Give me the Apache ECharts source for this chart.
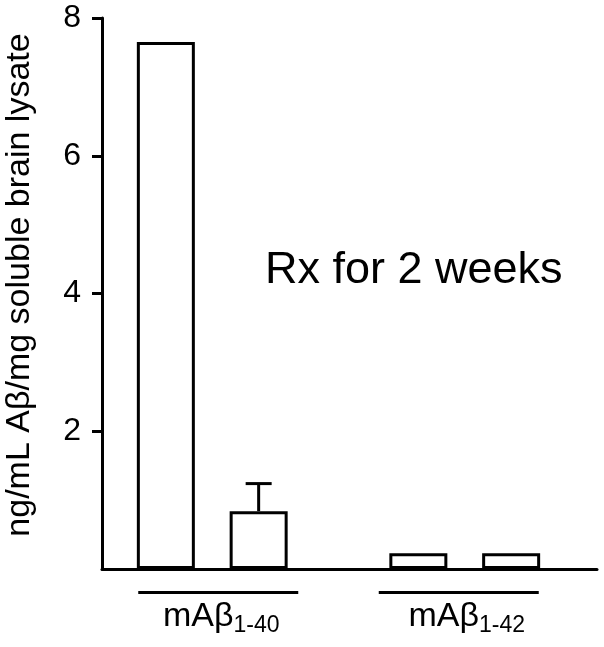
<!DOCTYPE html>
<html>
<head>
<meta charset="utf-8">
<script src="https://cdn.jsdelivr.net/npm/echarts@6/dist/echarts.min.js"></script>
<style>
  html, body { margin: 0; padding: 0; background: #fff; }
  #main { width: 604px; height: 647px; }
</style>
</head>
<body>
<div id="main"></div>
<script>
// data
var groupMain = 'mAβ';
var groupSub = ['1-40', '1-42'];
var barsA = [7.65, 0.23];
var barsB = [0.84, 0.23];
var errUpperB = [1.24, null];   // only the 1-40 bar has an error bar
var yTicks = [2, 4, 6, 8];

var FONT = '"Liberation Sans", Arial, sans-serif';
var barWidth = 58;
var barGap = 0.6;

var chart = echarts.init(document.getElementById('main'));

// error bar points [category index, bar value, upper]
var errData = [];
errUpperB.forEach(function (v, i) {
    if (v != null) errData.push([i, barsB[i], v]);
});

var option = {
    backgroundColor: '#fff',
    animation: false,
    grid: [
        // bars
        { left: 86, right: 13, top: 18, bottom: 78, outerBoundsMode: 'none' },
        // axis frame
        { left: 102, right: 7, top: 18, bottom: 78, outerBoundsMode: 'none' }
    ],
    xAxis: [
        {
            type: 'category',
            gridIndex: 0,
            data: groupSub,
            axisLine: { show: false },
            axisTick: { show: false },
            axisLabel: {
                margin: 22,
                formatter: function (v, i) {
                    // small spacers nudge the underline / label off the category centre
                    if (i === 0) {
                        return '{sp12|}{ln|}\n{sp18|}{m|' + groupMain + '}{s|' + v + '}';
                    }
                    return '{ln|}{sp12|}\n{sp4|}{m|' + groupMain + '}{s|' + v + '}';
                },
                rich: {
                    ln: { width: 160, height: 3, lineHeight: 3, backgroundColor: '#000' },
                    sp12: { width: 12, height: 3, lineHeight: 3 },
                    sp18: { width: 18 },
                    sp4: { width: 4 },
                    m: { fontFamily: FONT, fontSize: 34, color: '#000', lineHeight: 46 },
                    s: { fontFamily: FONT, fontSize: 23, color: '#000', lineHeight: 46, padding: [17, 0, 0, 0] }
                }
            }
        },
        {
            type: 'value',
            gridIndex: 1,
            min: 0,
            max: 1,
            axisLine: { show: true, lineStyle: { color: '#000', width: 3 } },
            axisTick: { show: false },
            axisLabel: { show: false },
            splitLine: { show: false }
        }
    ],
    yAxis: [
        { type: 'value', gridIndex: 0, min: 0, max: 8, show: false },
        {
            type: 'value',
            gridIndex: 1,
            min: 0,
            max: 8,
            interval: 2,
            name: 'ng/mL Aβ/mg soluble brain lysate',
            nameLocation: 'middle',
            nameGap: 65,
            nameTextStyle: { fontFamily: FONT, fontSize: 34, color: '#000', padding: [0, 0, 0, 17] },
            axisLine: { show: true, lineStyle: { color: '#000', width: 3 } },
            axisTick: { show: true, length: 10, customValues: yTicks, lineStyle: { color: '#000', width: 3 } },
            axisLabel: {
                margin: 21,
                fontFamily: FONT,
                fontSize: 32,
                color: '#000',
                customValues: yTicks,
                formatter: function (v) { return v === 0 ? '' : v; }
            },
            splitLine: { show: false }
        }
    ],
    graphic: [
        {
            type: 'text',
            left: 265,
            top: 248,
            style: { text: 'Rx for 2 weeks', font: '45px ' + FONT, fill: '#000' }
        }
    ],
    series: [
        {
            name: 'A',
            type: 'bar',
            xAxisIndex: 0,
            yAxisIndex: 0,
            data: barsA,
            barWidth: barWidth,
            barGap: (barGap * 100) + '%',
            itemStyle: { color: '#fff', borderColor: '#000', borderWidth: 3 }
        },
        {
            name: 'B',
            type: 'bar',
            xAxisIndex: 0,
            yAxisIndex: 0,
            data: barsB,
            barWidth: barWidth,
            barGap: (barGap * 100) + '%',
            itemStyle: { color: '#fff', borderColor: '#000', borderWidth: 3 }
        },
        {
            name: 'B error',
            type: 'custom',
            xAxisIndex: 0,
            yAxisIndex: 0,
            data: errData,
            z: 1,
            renderItem: function (params, api) {
                var i = api.value(0);
                var top = api.coord([i, api.value(1)]);
                var hi = api.coord([i, api.value(2)]);
                var x = top[0] + barWidth * (1 + barGap) / 2;
                var style = { stroke: '#000', lineWidth: 3 };
                return {
                    type: 'group',
                    children: [
                        { type: 'line', shape: { x1: x, y1: top[1], x2: x, y2: hi[1] }, style: style },
                        { type: 'line', shape: { x1: x - 13, y1: hi[1], x2: x + 13, y2: hi[1] }, style: style }
                    ]
                };
            }
        }
    ]
};

chart.setOption(option);
</script>
</body>
</html>
